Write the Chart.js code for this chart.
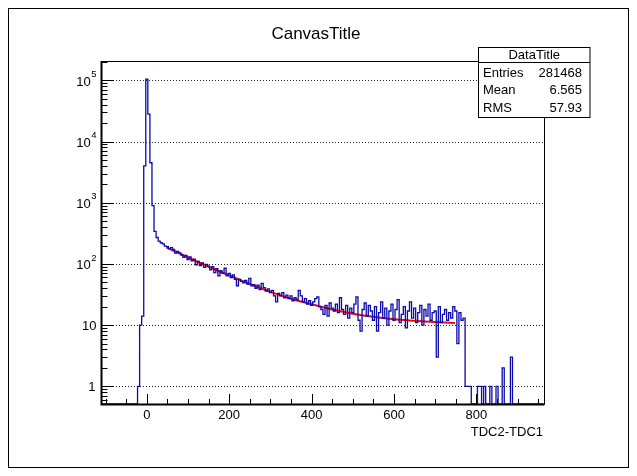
<!DOCTYPE html>
<html>
<head>
<meta charset="utf-8">
<script src="https://cdn.jsdelivr.net/npm/chart.js@4.4.1/dist/chart.umd.min.js"></script>
<style>
html, body { margin: 0; padding: 0; background: #fff; }
#wrap { width: 637px; height: 476px; position: relative; }
</style>
</head>
<body>
<div id="wrap"><canvas id="c" width="637" height="476"></canvas></div>
<script>
// histogram: 215 bins of width 5 starting at -112.5
const binStart = -112.5;
const binWidth = 5;
const counts = [
  0, 0, 0, 0, 0, 0, 0, 0, 0, 0, 0, 0, 0, 0, 0, 0, 0, 0,
  1, 10, 14, 4000, 105000, 28000, 4500, 900, 340, 270, 235, 222, 212, 196,
  192, 178, 185, 172, 150, 160, 152, 140, 128, 138, 118, 130, 112, 120, 97, 110,
  94, 104, 88, 98, 92, 80, 90, 72, 84, 64, 78, 70, 85, 64, 70, 60,
  66, 56, 44, 56, 52, 49, 54, 47, 58, 44, 46, 40, 45, 38, 48, 41,
  36, 39, 34, 37, 30, 24, 33, 30, 34, 28, 31, 27, 30, 25, 28, 26,
  37, 30, 24, 27, 22, 25, 21, 24, 27, 29, 20, 18, 15, 21, 14, 23,
  19, 17, 22, 16, 28, 18, 15, 21, 13, 19, 16, 22, 29, 12, 8, 18,
  23, 14, 21, 17, 12, 20, 8, 16, 24, 13, 19, 10, 17, 22, 12, 18,
  26, 11, 15, 20, 9, 17, 24, 13, 19, 11, 16, 21, 10, 18, 14, 22,
  12, 16, 17, 3, 20, 11, 15, 18, 12, 16, 13, 20, 17, 5, 16, 12,
  13, 1, 1, 1, 0, 0, 0, 1, 1, 0, 1, 0, 0, 1, 0, 0,
  1, 0, 0, 2, 0, 0, 0, 3,
  0, 0, 0, 0, 0, 0, 0, 0, 0, 0, 0, 0, 0, 0, 0
];

// fitted curve
const fitX = [47, 60, 75, 100, 125, 150, 175, 200, 250, 300, 350, 400, 450, 500, 550, 600, 650, 700, 748];
const fitY = [187, 170, 153, 128, 107, 90, 76, 65, 47, 35, 27, 22, 18, 15.4, 13.7, 12.5, 11.8, 11.2, 10.8];

const xMin = -111.2, xMax = 964;
const yMin = 0.514, yMax = 2.07e5;
const xTickLabels = [0, 200, 400, 600, 800];
const yDecades = [0, 1, 2, 3, 4, 5];
const statsRows = [['Entries', '281468'], ['Mean', '6.565'], ['RMS', '57.93']];

const FONT = '"Liberation Sans", Arial, Helvetica, sans-serif';

let histPoints = counts.map((v, i) => ({x: binStart + i * binWidth, y: v > 0 ? v : yMin}));
histPoints.push({x: binStart + counts.length * binWidth, y: counts[counts.length - 1] > 0 ? counts[counts.length - 1] : yMin});
let fitPoints = fitX.map((x, i) => ({x: x, y: fitY[i]}));

const rootStyle = {
  id: 'rootStyle',
  beforeDraw(chart) {
    const ctx = chart.ctx;
    ctx.save();
    ctx.fillStyle = '#fff';
    ctx.fillRect(0, 0, chart.width, chart.height);
    ctx.strokeStyle = '#000';
    ctx.lineWidth = 1;
    ctx.strokeRect(8.5, 8.5, 620, 459);
    ctx.restore();
  },
  beforeDatasetsDraw(chart) {
    const ctx = chart.ctx, ca = chart.chartArea, ys = chart.scales.y;
    ctx.save();
    ctx.strokeStyle = '#222';
    ctx.lineWidth = 1;
    ctx.setLineDash([1, 2]);
    yDecades.forEach(d => {
      const py = Math.round(ys.getPixelForValue(Math.pow(10, d))) + 0.5;
      ctx.beginPath();
      ctx.moveTo(ca.left, py);
      ctx.lineTo(ca.right, py);
      ctx.stroke();
    });
    ctx.restore();
  },
  afterDatasetsDraw(chart) {
    const ctx = chart.ctx, ca = chart.chartArea;
    const xs = chart.scales.x, ys = chart.scales.y;
    ctx.save();
    ctx.strokeStyle = '#000';
    ctx.lineWidth = 1;
    // frame
    ctx.strokeRect(ca.left + 0.5, ca.top + 0.5, ca.right - ca.left, ca.bottom - ca.top);
    ctx.beginPath();
    // x ticks
    for (let v = -100; v <= 950; v += 50) {
      const px = Math.round(xs.getPixelForValue(v)) + 0.5;
      const len = v % 200 === 0 ? 10 : 5;
      ctx.moveTo(px, ca.bottom);
      ctx.lineTo(px, ca.bottom - len);
    }
    // y ticks
    for (let d = -1; d <= 5; d++) {
      for (let m = 1; m <= 9; m++) {
        const v = m * Math.pow(10, d);
        if (v < yMin || v > yMax) continue;
        const py = Math.round(ys.getPixelForValue(v)) + 0.5;
        const len = m === 1 ? 13 : 6.5;
        ctx.moveTo(ca.left, py);
        ctx.lineTo(ca.left + len, py);
      }
    }
    ctx.stroke();
    ctx.lineWidth = 2;
    ctx.beginPath();
    ctx.moveTo(ca.left + 0.5, ca.top);
    ctx.lineTo(ca.left + 0.5, ca.bottom + 0.5);
    ctx.lineTo(ca.right, ca.bottom + 0.5);
    ctx.stroke();

    ctx.fillStyle = '#000';
    // x labels
    ctx.font = '13px ' + FONT;
    ctx.textAlign = 'center';
    ctx.textBaseline = 'middle';
    xTickLabels.forEach(v => {
      ctx.fillText(String(v), xs.getPixelForValue(v), 415);
    });
    ctx.textAlign = 'right';
    ctx.fillText('TDC2-TDC1', 543, 432);

    // y labels
    yDecades.forEach(d => {
      const py = ys.getPixelForValue(Math.pow(10, d));
      const rightEdge = 96.5;
      if (d === 0) {
        ctx.font = '13px ' + FONT;
        ctx.textAlign = 'right';
        ctx.fillText('1', rightEdge - 1, py + 1.5);
      } else if (d === 1) {
        ctx.font = '13px ' + FONT;
        ctx.textAlign = 'right';
        ctx.fillText('10', rightEdge, py + 1.5);
      } else {
        ctx.font = '9.5px ' + FONT;
        const sup = String(d);
        const sw = ctx.measureText(sup).width;
        ctx.textAlign = 'left';
        ctx.fillText(sup, rightEdge - sw, py - 6);
        ctx.font = '13px ' + FONT;
        ctx.textAlign = 'right';
        ctx.fillText('10', rightEdge - sw - 0.5, py + 2);
      }
    });

    // title
    ctx.font = '17px ' + FONT;
    ctx.textAlign = 'center';
    ctx.fillText('CanvasTitle', 316, 34);

    // stats box
    const bx = 478.5, by = 47.5, bw = 111.5, bh = 70;
    ctx.fillStyle = '#fff';
    ctx.fillRect(bx, by, bw, bh);
    ctx.lineWidth = 1;
    ctx.strokeRect(bx, by, bw, bh);
    ctx.beginPath();
    ctx.moveTo(bx, 62.5);
    ctx.lineTo(bx + bw, 62.5);
    ctx.stroke();
    ctx.fillStyle = '#000';
    ctx.font = '13px ' + FONT;
    ctx.textAlign = 'center';
    ctx.fillText('DataTitle', bx + bw / 2, 55.5);
    const rowY = [73.5, 90.5, 108];
    statsRows.forEach((r, i) => {
      ctx.textAlign = 'left';
      ctx.fillText(r[0], 483, rowY[i]);
      ctx.textAlign = 'right';
      ctx.fillText(r[1], 582, rowY[i]);
    });
    ctx.restore();
  }
};

new Chart(document.getElementById('c').getContext('2d'), {
  type: 'line',
  data: {
    datasets: [
      {
        label: 'hist',
        data: histPoints,
        stepped: true,
        borderColor: 'rgb(10,10,175)',
        borderWidth: 1.3,
        pointRadius: 0,
        fill: false,
        tension: 0,
      },
      {
        label: 'fit',
        data: fitPoints,
        borderColor: 'rgb(255,0,0)',
        borderWidth: 2,
        pointRadius: 0,
        fill: false,
        tension: 0.3,
      },
    ],
  },
  options: {
    responsive: false,
    animation: false,
    devicePixelRatio: 1,
    layout: {
      padding: {left: 101, right: 93, top: 61, bottom: 72},
    },
    plugins: {
      legend: {display: false},
      tooltip: {enabled: false},
      title: {display: false},
    },
    scales: {
      x: {type: 'linear', min: xMin, max: xMax, display: false},
      y: {type: 'logarithmic', min: yMin, max: yMax, display: false},
    },
  },
  plugins: [rootStyle],
});
</script>
</body>
</html>
